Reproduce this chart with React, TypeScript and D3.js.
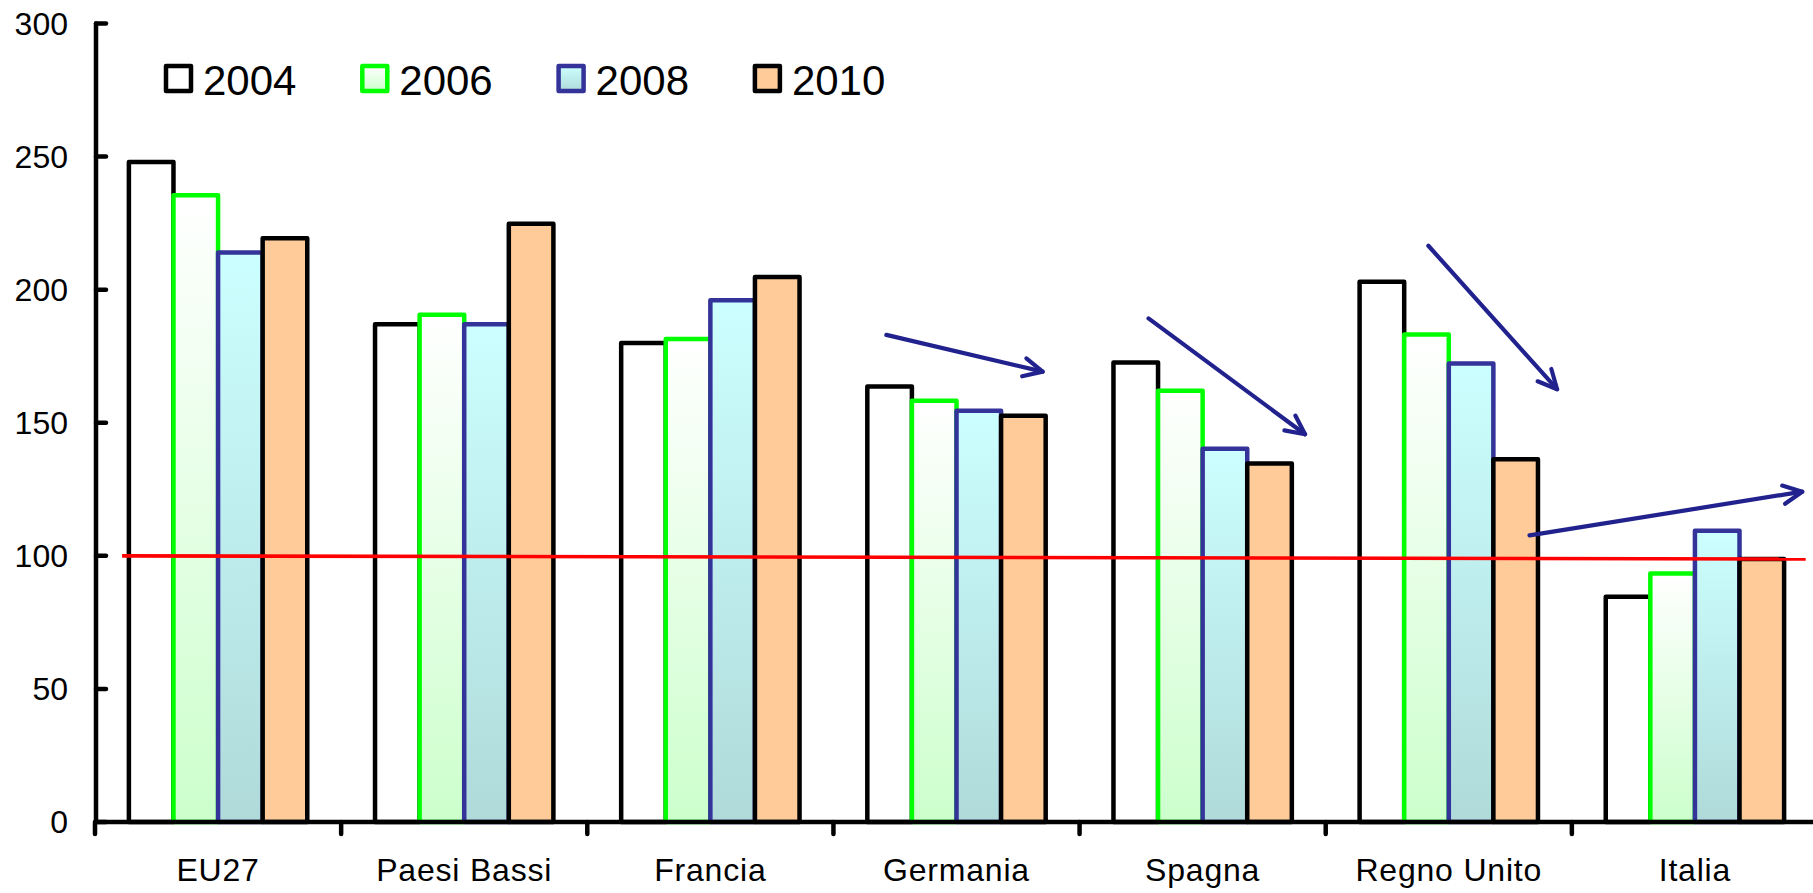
import React from "react";
import * as d3 from "d3";

// Index values per country and year (EU27 comparison)
const categories = ["EU27", "Paesi Bassi", "Francia", "Germania", "Spagna", "Regno Unito", "Italia"];
const years = ["2004", "2006", "2008", "2010"];
const values2004 = [248, 187, 180, 163.6, 172.6, 203, 84.6];
const values2006 = [235.5, 190.6, 181.5, 158.3, 162, 183.2, 93.4];
const values2008 = [214, 187, 196, 154.5, 140.2, 172.3, 109.4];
const values2010 = [219.3, 224.8, 204.8, 152.6, 134.7, 136.3, 98.8];
const yTicks = [0, 50, 100, 150, 200, 250, 300];

// Reference line and trend arrows, in [category position, value] coordinates
const referenceLine = { from: [0.11, 100], to: [6.95, 98.8] };
const trendArrows = [
  { from: [3.215, 183.0], to: [3.85, 169.2] },
  { from: [4.28, 189.2], to: [4.916, 145.7] },
  { from: [5.417, 216.5], to: [5.94, 162.6] },
  { from: [5.828, 107.7], to: [6.936, 124.1] },
];

const seriesValues = [values2004, values2006, values2008, values2010];

const FONT = "'Liberation Sans', Arial, Helvetica, sans-serif";
const W = 1813;
const H = 893;

const seriesStyle: Record<string, { fill: string; stroke: string }> = {
  "2004": { fill: "#ffffff", stroke: "#000000" },
  "2006": { fill: "url(#grad2006)", stroke: "#00ff00" },
  "2008": { fill: "url(#grad2008)", stroke: "#333399" },
  "2010": { fill: "#ffcc99", stroke: "#000000" },
};

function arrowHead(x1: number, y1: number, x2: number, y2: number) {
  const ang = Math.atan2(y1 - y2, x1 - x2);
  const len = 21;
  const spread = (26 * Math.PI) / 180;
  const a = [x2 + len * Math.cos(ang + spread), y2 + len * Math.sin(ang + spread)];
  const b = [x2 + len * Math.cos(ang - spread), y2 + len * Math.sin(ang - spread)];
  return `M${a[0]},${a[1]}L${x2},${y2}L${b[0]},${b[1]}`;
}

export default function App() {
  const x = d3.scaleBand<string>().domain(categories).range([95, 1818]).paddingInner(0).paddingOuter(0);
  const xs = d3.scaleBand<string>().domain(years).range([0, x.bandwidth()]).paddingInner(0).paddingOuter(0.76);
  const y = d3.scaleLinear().domain([0, 300]).range([822, 23.5]);
  const xPos = d3.scaleLinear().domain([0, categories.length]).range([95, 1818]);

  const axisX = 96;
  const baseY = y(0);
  const boundaries = d3.range(categories.length + 1).map((i) => xPos(i));

  const line = d3.line<number[]>().x((d) => xPos(d[0])).y((d) => y(d[1]));

  return (
    <svg
      width={W}
      height={H}
      viewBox={`0 0 ${W} ${H}`}
      style={{ position: "absolute", left: 0, top: 0, display: "block", background: "#ffffff" }}
      fontFamily={FONT}
    >
      <defs>
        <linearGradient id="grad2006" x1="0" y1="0" x2="0" y2="1">
          <stop offset="0" stopColor="#ffffff" />
          <stop offset="1" stopColor="#ccffcc" />
        </linearGradient>
        <linearGradient id="grad2008" x1="0" y1="0" x2="0" y2="1">
          <stop offset="0" stopColor="#ccffff" />
          <stop offset="1" stopColor="#b0dada" />
        </linearGradient>
      </defs>
      <rect x={0} y={0} width={W} height={H} fill="#ffffff" />

      {/* bars */}
      {years.map((yr, si) => (
        <g key={yr}>
          {categories.map((c, ci) => {
            const v = seriesValues[si][ci];
            const x0 = (x(c) as number) + (xs(yr) as number);
            return (
              <rect
                key={c}
                x={x0}
                y={y(v)}
                width={xs.bandwidth()}
                height={baseY - y(v)}
                fill={seriesStyle[yr].fill}
                stroke={seriesStyle[yr].stroke}
                strokeWidth={4.5}
                strokeLinejoin="round"
              />
            );
          })}
        </g>
      ))}

      {/* reference line */}
      <path d={line([referenceLine.from, referenceLine.to]) as string} stroke="#ff0000" strokeWidth={3.6} fill="none" />

      {/* trend arrows */}
      {trendArrows.map((a, i) => {
        const x1 = xPos(a.from[0]);
        const y1 = y(a.from[1]);
        const x2 = xPos(a.to[0]);
        const y2 = y(a.to[1]);
        return (
          <g key={i} stroke="#22228e" strokeWidth={4.2} fill="none" strokeLinecap="round" strokeLinejoin="round">
            <line x1={x1} y1={y1} x2={x2} y2={y2} />
            <path d={arrowHead(x1, y1, x2, y2)} />
          </g>
        );
      })}

      {/* y axis */}
      <g stroke="#000000" strokeWidth={4.5} strokeLinecap="round">
        <line x1={axisX} y1={y(300)} x2={axisX} y2={baseY} />
        {yTicks.map((t) => (
          <line key={t} x1={axisX} y1={y(t)} x2={axisX + 10} y2={y(t)} />
        ))}
      </g>
      {yTicks.map((t) => (
        <text key={t} x={68} y={y(t)} textAnchor="end" dominantBaseline="central" fontSize={32} fill="#000000">
          {t}
        </text>
      ))}

      {/* x axis */}
      <g stroke="#000000" strokeWidth={4.5}>
        <line x1={95} y1={baseY} x2={W} y2={baseY} />
        {boundaries.map((b, i) => (
          <line key={i} x1={b} y1={baseY} x2={b} y2={baseY + 12} strokeLinecap="round" />
        ))}
      </g>
      {categories.map((c) => (
        <text
          key={c}
          x={(x(c) as number) + x.bandwidth() / 2}
          y={881}
          textAnchor="middle"
          fontSize={32}
          letterSpacing={0.8}
          fill="#000000"
        >
          {c}
        </text>
      ))}

      {/* legend */}
      {years.map((yr, i) => {
        const lx = 166 + i * 196.3;
        return (
          <g key={yr}>
            <rect
              x={lx}
              y={66}
              width={25}
              height={25}
              fill={seriesStyle[yr].fill}
              stroke={seriesStyle[yr].stroke}
              strokeWidth={4.5}
              strokeLinejoin="round"
            />
            <text x={lx + 37} y={95} fontSize={42} fill="#000000">
              {yr}
            </text>
          </g>
        );
      })}
    </svg>
  );
}
